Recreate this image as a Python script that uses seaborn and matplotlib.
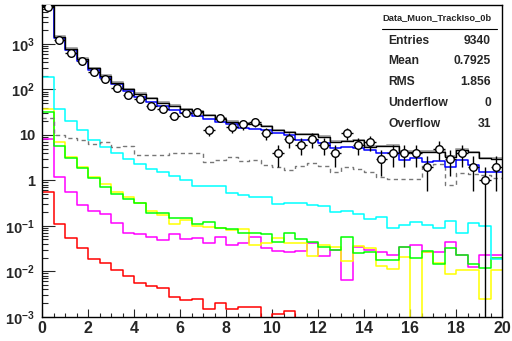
import numpy as np
import matplotlib
matplotlib.use("Agg")
import matplotlib.pyplot as plt
import matplotlib.ticker as mticker
import seaborn as sns

# 40 bins of 0.5 from 0 to 20
bin_edges = np.linspace(0, 20, 41)

data_counts = [6500, 1220, 624, 423, 245, 167, 110, 76, 61, 43,
               37, 26, 31, 32, 13, 24, 15, 17, 19, 11,
               4, 8, 6, 8, 6, 4, 11, 6, 7, 3,
               4, 4, 4, 2, 5, 3, 4, 2, 1, 2]

black_hist = [7000, 1450, 780, 460, 292, 198, 141, 100, 79, 64,
              50, 43, 37, 33, 27, 22, 19.5, 18, 17, 15.7,
              12.8, 11.4, 10.3, 10.3, 9.1, 7.1, 7.3, 7.7, 5.5, 5.6,
              5.7, 4.3, 4.3, 4.3, 4.3, 3.3, 4.7, 4.1, 3.05, 3.0]

grey_hist = [7000, 1500, 800, 480, 300, 205, 146, 104, 82, 66,
             52, 45, 38, 34, 28, 23, 20, 18.5, 17.5, 16,
             13, 11.8, 10.5, 10.5, 9.4, 7.3, 7.5, 7.9, 5.7, 5.8,
             5.9, 4.4, 4.4, 4.4, 4.4, 3.4, 4.8, 4.2, 3.1, 3.1]

blue_hist = [6800, 1330, 738, 423, 268, 181, 132, 94, 69, 54,
             43, 35, 30, 26, 22, 19, 17, 14.4, 13.5, 13,
             11, 10, 7.7, 7.7, 6.5, 5.1, 5.5, 5.1, 4.7, 3.9,
             4.06, 2.8, 3.05, 2.57, 2.6, 2.0, 2.8, 2.18, 1.55, 1.5]

cyan_hist = [185, 38, 20.5, 12.8, 7.7, 5.3, 4.06, 2.95, 2.3, 1.8,
             1.55, 1.25, 1.02, 0.75, 0.75, 0.75, 0.53, 0.48, 0.42, 0.43,
             0.30, 0.31, 0.32, 0.28, 0.27, 0.2, 0.215, 0.18, 0.139, 0.154,
             0.088, 0.104, 0.119, 0.104, 0.088, 0.13, 0.07, 0.113, 0.1, 0.019]

dashed_hist = [23, 9.7, 8.4, 7.7, 6.2, 7.0, 5.4, 5.8, 3.7, 3.7,
               3.7, 4.06, 4.06, 4.06, 2.57, 2.8, 3.3, 2.7, 2.85, 2.18,
               1.94, 1.7, 2.07, 2.35, 2.07, 1.55, 2.0, 1.75, 1.55, 1.17,
               1.05, 1.05, 1.05, 2.18, 2.3, 0.8, 1.45, 1.4, 1.3, 1.1]

green_hist = [32, 5.7, 3.05, 1.84, 1.1, 0.72, 0.5, 0.39, 0.31, 0.19,
              0.19, 0.146, 0.146, 0.108, 0.123, 0.088, 0.084, 0.07, 0.068, 0.065,
              0.045, 0.068, 0.05, 0.045, 0.034, 0.03, 0.057, 0.025, 0.026, 0.018,
              0.018, 0.035, 0.02, 0.028, 0.0142, 0.032, 0.0228, 0.0142, 0.0116, 0.02]

yellow_hist = [38, 6.8, 3.3, 1.94, 1.17, 0.83, 0.54, 0.42, 0.31, 0.215,
               0.173, 0.108, 0.134, 0.099, 0.093, 0.088, 0.081, 0.084, 0.038, 0.042,
               0.053, 0.042, 0.042, 0.0216, 0.038, 0.035, 0.017, 0.036, 0.032, 0.013,
               0.011, 0.021, 0, 0.026, 0.015, 0.0087, 0.0107, 0.0104, 0.0024, 0.0107]

magenta_hist = [8, 1.17, 0.56, 0.29, 0.215, 0.18, 0.117, 0.068, 0.065, 0.056,
                0.049, 0.065, 0.052, 0.053, 0.042, 0.056, 0.038, 0.042, 0.057, 0.032,
                0.028, 0.027, 0.028, 0.042, 0.0216, 0.03, 0.0065, 0.034, 0.029, 0.027,
                0.0228, 0.034, 0.038, 0.027, 0.027, 0.045, 0.0228, 0.0126, 0.0228, 0.0228]

red_hist = [0.56, 0.11, 0.053, 0.032, 0.019, 0.015, 0.0107, 0.0079, 0.0056, 0.0047,
            0.0043, 0.00275, 0.0023, 0.0025, 0.0015, 0.002, 0.0015, 0.00166, 0.0016, 0,
            0.00115, 0.00136, 0, 0, 0, 0, 0, 0, 0, 0,
            0, 0, 0, 0, 0, 0, 0, 0, 0, 0]

y_tick_values = [1e-3, 1e-2, 1e-1, 1, 10, 1e2, 1e3]
y_tick_labels = ['$10^{-3}$', '$10^{-2}$', '$10^{-1}$', '1', '10', '$10^{2}$', '$10^{3}$']
x_tick_values = [0, 2, 4, 6, 8, 10, 12, 14, 16, 18, 20]

stats_title = 'Data_Muon_TrackIso_0b'
stats_names = ['Entries', 'Mean', 'RMS', 'Underflow', 'Overflow']
stats_values = ['9340', '0.7925', '1.856', '0', '31']

sns.set_theme(style='white')
plt.rcParams['font.family'] = ['Liberation Sans', 'DejaVu Sans']
plt.rcParams['font.weight'] = 'bold'
plt.rcParams['mathtext.fontset'] = 'custom'
plt.rcParams['mathtext.rm'] = 'Liberation Sans:bold'
plt.rcParams['mathtext.it'] = 'Liberation Sans:bold'
plt.rcParams['mathtext.bf'] = 'Liberation Sans:bold'
plt.rcParams['mathtext.default'] = 'rm'

W, H = 512, 341
fig = plt.figure(figsize=(W / 100, H / 100), dpi=100)
ax = fig.add_axes([42 / W, 1 - 316.7 / H, 460 / W, (316.7 - 5) / H])


def draw_hist(vals, color, lw=1.1, dashed=False):
    # step outline over the bin edges
    y = np.append(vals, vals[-1])
    sns.lineplot(x=bin_edges, y=y, drawstyle='steps-post', color=color,
                 linewidth=lw, estimator=None, sort=False, legend=False, ax=ax)
    if dashed:
        ax.lines[-1].set_dashes((3, 2.5))


draw_hist(red_hist, '#ff0000')
draw_hist(magenta_hist, '#ff00ff')
draw_hist(yellow_hist, '#ffff00')
draw_hist(green_hist, '#00ff00')
draw_hist(cyan_hist, '#00ffff')
draw_hist(dashed_hist, '#777777', lw=1.0, dashed=True)
draw_hist(grey_hist, '#aaaaaa', lw=1.4)
draw_hist(blue_hist, '#0000ff')
draw_hist(black_hist, '#000000', lw=1.0)

# data points with poisson errors
centers = (bin_edges[:-1] + bin_edges[1:]) / 2
counts = np.array(data_counts, dtype=float)
ax.errorbar(centers, counts, yerr=np.sqrt(counts), xerr=0.25, fmt='none',
            ecolor='black', elinewidth=1.0, capsize=0, zorder=5)
sns.scatterplot(x=centers, y=counts, marker='o', s=30, facecolor='white',
                edgecolor='black', linewidth=1.0, zorder=6, legend=False, ax=ax)

ax.set_yscale('log')
ax.set_xlim(0, 20)
ax.set_ylim(1e-3, 7200)
ax.set_xlabel('')
ax.set_ylabel('')

ax.yaxis.set_major_locator(mticker.FixedLocator(y_tick_values))
ax.yaxis.set_major_formatter(mticker.FixedFormatter(y_tick_labels))
ax.yaxis.set_minor_locator(mticker.LogLocator(base=10, subs=np.arange(2, 10), numticks=20))
ax.yaxis.set_minor_formatter(mticker.NullFormatter())
ax.xaxis.set_major_locator(mticker.FixedLocator(x_tick_values))
ax.xaxis.set_minor_locator(mticker.MultipleLocator(0.5))

ax.tick_params(axis='y', which='major', direction='in', length=9.4, width=0.8,
               labelsize=10.5, pad=5, left=True)
ax.tick_params(axis='y', which='minor', direction='in', length=4.5, width=0.8, left=True)
ax.tick_params(axis='x', which='major', direction='in', length=6, width=0.8,
               labelsize=11.5, pad=3, bottom=True)
ax.tick_params(axis='x', which='minor', direction='in', length=2.8, width=0.8, bottom=True)
for lab in ax.get_xticklabels() + ax.get_yticklabels():
    lab.set_fontweight('bold')

for sp in ax.spines.values():
    sp.set_visible(True)
    sp.set_color('black')
    sp.set_linewidth(1.0)

# stats box
fig.text(437 / W, 1 - 18 / H, stats_title, ha='center', va='center',
         fontsize=6.7, fontweight='bold')
fig.add_artist(plt.Line2D([381.7 / W, 496.7 / W], [1 - 29.3 / H, 1 - 29.3 / H],
                          color='black', lw=0.8))
row_y = [40.7, 61, 81.7, 102.7, 124]
for name, val, yy in zip(stats_names, stats_values, row_y):
    fig.text(388.3 / W, 1 - yy / H, name, ha='left', va='center',
             fontsize=8.7, fontweight='bold')
    fig.text(491 / W, 1 - yy / H, val, ha='right', va='center',
             fontsize=8.7, fontweight='bold')

fig.savefig('out.png', dpi=100)
